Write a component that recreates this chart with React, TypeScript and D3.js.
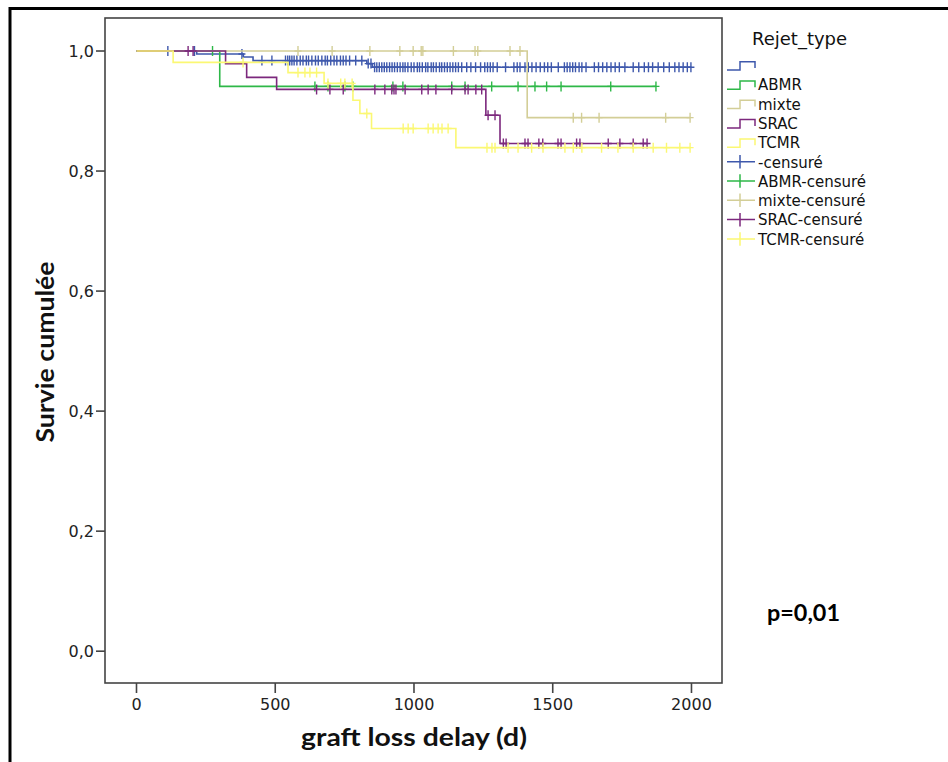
import React from "react";
import * as d3 from "d3";

const W = 948;
const H = 762;

// ---- data ----
const groupNames = ["", "ABMR", "mixte", "SRAC", "TCMR"];
const groupColors = ["#3E58AC", "#2EB848", "#D3CE97", "#7C287D", "#FBF873"];

const blankEventTimes = [217, 385, 420, 830, 850];
const blankEventSurv = [0.995, 0.99, 0.984, 0.979, 0.973];
const blankEnd = 2000;
const blankCensor = [113, 209, 380, 452, 488, 537, 545, 552, 560, 568, 578, 590, 600, 612, 620, 632, 645, 655, 668, 680, 688, 700, 712, 722, 735, 745, 755, 768, 790, 812, 835, 845, 858, 866, 875, 884, 893, 902, 912, 921, 930, 940, 950, 960, 968, 978, 990, 1000, 1012, 1020, 1030, 1042, 1050, 1062, 1070, 1080, 1092, 1100, 1110, 1120, 1130, 1140, 1150, 1160, 1172, 1190, 1205, 1222, 1240, 1255, 1265, 1275, 1285, 1300, 1330, 1360, 1372, 1382, 1400, 1412, 1425, 1440, 1455, 1470, 1482, 1495, 1520, 1542, 1552, 1562, 1572, 1582, 1595, 1605, 1620, 1650, 1665, 1680, 1695, 1710, 1725, 1740, 1760, 1790, 1810, 1830, 1845, 1860, 1880, 1900, 1920, 1940, 1955, 1970, 1985, 1998];

const abmrEventTimes = [300];
const abmrEventSurv = [0.941];
const abmrEnd = 1872;
const abmrCensor = [274, 643, 690, 751, 780, 924, 960, 1136, 1184, 1280, 1375, 1436, 1478, 1530, 1709, 1872];

const mixteEventTimes = [1408];
const mixteEventSurv = [0.889];
const mixteEnd = 1995;
const mixteCensor = [582, 705, 841, 949, 997, 1026, 1032, 1142, 1220, 1230, 1346, 1382, 1574, 1604, 1667, 1907, 1995];

const sracEventTimes = [321, 397, 505, 1259, 1310];
const sracEventSurv = [0.979, 0.956, 0.936, 0.893, 0.846];
const sracEnd = 1840;
const sracCensor = [186, 204, 649, 697, 745, 859, 895, 920, 928, 935, 968, 1028, 1051, 1079, 1136, 1184, 1195, 1223, 1244, 1267, 1292, 1322, 1332, 1400, 1411, 1450, 1464, 1519, 1530, 1586, 1598, 1700, 1742, 1790, 1826, 1840];

const tcmrEventTimes = [132, 546, 676, 780, 805, 847, 1151];
const tcmrEventSurv = [0.981, 0.964, 0.946, 0.918, 0.896, 0.871, 0.839];
const tcmrEnd = 1995;
const tcmrCensor = [384, 582, 607, 625, 649, 690, 736, 751, 777, 830, 961, 979, 997, 1051, 1069, 1087, 1101, 1123, 1263, 1281, 1292, 1339, 1375, 1424, 1465, 1544, 1574, 1605, 1676, 1735, 1790, 1862, 1910, 1958, 1995];

const xTicks = [0, 500, 1000, 1500, 2000];
const yTicks = [0, 0.2, 0.4, 0.6, 0.8, 1.0];
const legendLabels = ["", "ABMR", "mixte", "SRAC", "TCMR", "-censuré", "ABMR-censuré", "mixte-censuré", "SRAC-censuré", "TCMR-censuré"];

const groups = [
  { times: blankEventTimes, surv: blankEventSurv, end: blankEnd, censor: blankCensor },
  { times: abmrEventTimes, surv: abmrEventSurv, end: abmrEnd, censor: abmrCensor },
  { times: mixteEventTimes, surv: mixteEventSurv, end: mixteEnd, censor: mixteCensor },
  { times: sracEventTimes, surv: sracEventSurv, end: sracEnd, censor: sracCensor },
  { times: tcmrEventTimes, surv: tcmrEventSurv, end: tcmrEnd, censor: tcmrCensor },
];

// ---- layout ----
const frame = { left: 105, right: 722, top: 18, bottom: 683 };
const x = d3.scaleLinear().domain([-113.5, 2110]).range([frame.left, frame.right]);
const y = d3.scaleLinear().domain([-0.053, 1.055]).range([frame.bottom, frame.top]);

const survAt = (g: any, t: number) => {
  let s = 1;
  for (let i = 0; i < g.times.length; i++) if (g.times[i] <= t) s = g.surv[i];
  return s;
};

const line = d3
  .line<[number, number]>()
  .x((d) => x(d[0]))
  .y((d) => y(d[1]))
  .curve(d3.curveStepAfter);

const fmt = (v: number) => d3.format(".1f")(v).replace(".", ",");

export default function App() {
  const legX = 727;
  const legRow0 = 70;
  const legStep = 19.3;
  return (
    <svg width={W} height={H} style={{ position: "absolute", left: 0, top: 0 }}>
      <rect x={0} y={0} width={W} height={H} fill="#fff" />
      {/* outer border */}
      <path d={`M10,${H + 5} V8.5 H${W + 5}`} fill="none" stroke="#000" strokeWidth={3} />

      {/* curves */}
      {groups.map((g, gi) => {
        const pts: [number, number][] = [[0, 1]];
        g.times.forEach((t: number, i: number) => pts.push([t, g.surv[i]]));
        pts.push([g.end, g.surv[g.surv.length - 1]]);
        return (
          <g key={gi}>
            <path d={line(pts) || ""} fill="none" stroke={groupColors[gi]} strokeWidth={1.6} />
            {g.censor.map((t: number, ci: number) => {
              const cx = x(t);
              const cy = y(survAt(g, t));
              return (
                <path
                  key={ci}
                  d={`M${cx},${cy - 5} V${cy + 5} M${cx - 3.5},${cy} H${cx + 3.5}`}
                  stroke={groupColors[gi]}
                  strokeWidth={1.4}
                  fill="none"
                />
              );
            })}
          </g>
        );
      })}

      {/* frame */}
      <rect
        x={frame.left}
        y={frame.top}
        width={frame.right - frame.left}
        height={frame.bottom - frame.top}
        fill="none"
        stroke="#444"
        strokeWidth={1.6}
      />

      {/* y axis ticks */}
      {yTicks.map((v) => (
        <g key={v}>
          <line x1={frame.left - 9} x2={frame.left} y1={y(v)} y2={y(v)} stroke="#444" strokeWidth={1.6} />
          <text
            x={frame.left - 11}
            y={y(v)}
            dy="0.35em"
            textAnchor="end"
            fontFamily="DejaVu Sans"
            fontSize={16}
            fill="#222"
          >
            {fmt(v)}
          </text>
        </g>
      ))}
      {/* x axis ticks */}
      {xTicks.map((v) => (
        <g key={v}>
          <line x1={x(v)} x2={x(v)} y1={frame.bottom} y2={frame.bottom + 10} stroke="#444" strokeWidth={1.6} />
          <text x={x(v)} y={710} textAnchor="middle" fontFamily="DejaVu Sans" fontSize={16} fill="#222">
            {v}
          </text>
        </g>
      ))}

      {/* axis titles */}
      <text
        x={414}
        y={746}
        textAnchor="middle"
        fontFamily="Lato"
        fontWeight="bold"
        fontSize={25}
        textLength={226}
        lengthAdjust="spacingAndGlyphs"
        fill="#111"
      >
        graft loss delay (d)
      </text>
      <text
        transform="translate(54,352) rotate(-90)"
        textAnchor="middle"
        fontFamily="Lato"
        fontWeight="bold"
        fontSize={25}
        textLength={181}
        lengthAdjust="spacingAndGlyphs"
        fill="#111"
      >
        Survie cumulée
      </text>

      {/* p value */}
      <text
        x={767}
        y={621}
        fontFamily="Lato"
        fontWeight="bold"
        fontSize={22}
        textLength={73}
        lengthAdjust="spacingAndGlyphs"
        fill="#000"
      >
        p=0,01
      </text>

      {/* legend */}
      <text x={752} y={45} fontFamily="DejaVu Sans" fontSize={18} fill="#111">
        Rejet_type
      </text>
      {legendLabels.map((lab, i) => {
        const gi = i % 5;
        const bottom = legRow0 + legStep * i;
        const col = groupColors[gi];
        const sym =
          i < 5 ? (
            <path
              d={`M${legX},${bottom} H${legX + 13} V${bottom - 8.3} H${legX + 28} V${bottom - 2}`}
              fill="none"
              stroke={col}
              strokeWidth={1.5}
            />
          ) : (
            <path
              d={`M${legX},${bottom - 4.8} H${legX + 28} M${legX + 13},${bottom - 11.5} V${bottom + 2}`}
              fill="none"
              stroke={col}
              strokeWidth={1.5}
            />
          );
        return (
          <g key={i}>
            {sym}
            <text x={legX + 31} y={bottom + 1} fontFamily="DejaVu Sans" fontSize={15} fill="#111">
              {lab}
            </text>
          </g>
        );
      })}
    </svg>
  );
}
